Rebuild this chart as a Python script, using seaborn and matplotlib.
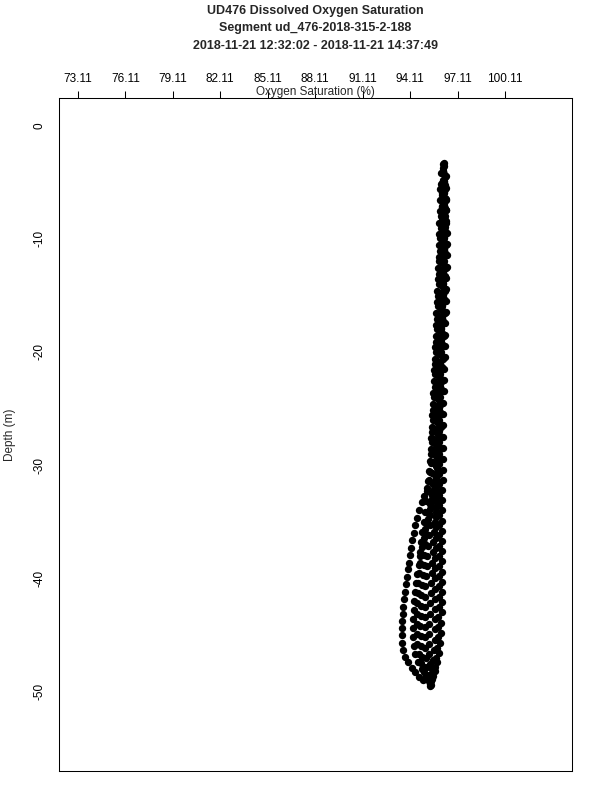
import matplotlib
matplotlib.use("Agg")
import matplotlib.pyplot as plt
import pandas as pd
import seaborn as sns

TITLE_LINES = [
    "UD476 Dissolved Oxygen Saturation",
    "Segment ud_476-2018-315-2-188",
    "2018-11-21 12:32:02 - 2018-11-21 14:37:49",
]
X_LABEL = "Oxygen Saturation (%)"
Y_LABEL = "Depth (m)"
X_TICKS = [73.11, 76.11, 79.11, 82.11, 85.11, 88.11, 91.11, 94.11, 97.11, 100.11]
Y_TICKS = [0, -10, -20, -30, -40, -50]

# one list pair per glider cast
cast_a_depth = [-4.0, -5.1, -6.0, -7.1, -8.0, -9.1, -10.0, -11.1, -12.0, -13.1, -14.0, -15.1, -16.0, -17.1, -18.0,
                -19.1, -20.0, -21.1, -22.0, -23.1, -24.0, -25.1, -26.0, -27.1, -28.0, -29.0, -29.8, -30.6, -31.3,
                -32.0, -32.7, -33.3, -34.0, -34.7, -35.3, -36.0, -36.6, -37.3, -37.9, -38.6, -39.2, -39.9, -40.5,
                -41.2, -41.8, -42.5, -43.1, -43.8, -44.4, -45.0, -45.7, -46.3, -46.9, -47.4, -47.9, -48.3, -48.7, -49.0]
cast_a_oxy = [96.18, 96.16, 96.12, 96.10, 96.08, 96.05, 96.02, 96.00, 95.97, 95.95, 95.92, 95.88, 95.86, 95.83, 95.80,
              95.77, 95.74, 95.71, 95.69, 95.66, 95.62, 95.59, 95.56, 95.52, 95.49, 95.45, 95.41, 95.36, 95.30,
              95.17, 95.00, 94.87, 94.70, 94.55, 94.45, 94.34, 94.26, 94.18, 94.10, 94.02, 93.96, 93.90, 93.85,
              93.79, 93.74, 93.69, 93.65, 93.62, 93.60, 93.59, 93.61, 93.66, 93.80, 93.98, 94.22, 94.45, 94.70, 94.95]

cast_b_depth = [-3.4, -4.3, -5.3, -6.4, -7.3, -8.4, -9.3, -10.4, -11.3, -12.4, -13.3, -14.4, -15.3, -16.4, -17.3,
                -18.4, -19.3, -20.4, -21.3, -22.4, -23.3, -24.4, -25.3, -26.4, -27.3, -28.4, -29.3, -30.3, -31.2,
                -32.1, -33.0, -33.9, -34.8, -35.6, -36.4, -37.2, -38.0, -38.8, -39.6, -40.4, -41.2, -42.0, -42.8,
                -43.6, -44.4, -45.2, -46.0, -46.7, -47.4, -48.0, -48.6]
cast_b_oxy = [96.22, 96.28, 96.30, 96.31, 96.33, 96.33, 96.34, 96.33, 96.32, 96.30, 96.29, 96.27, 96.25, 96.22, 96.20,
              96.18, 96.15, 96.12, 96.10, 96.08, 96.05, 96.03, 96.00, 95.97, 95.95, 95.92, 95.88, 95.82, 95.74,
              95.62, 95.50, 95.36, 95.22, 95.08, 94.96, 94.85, 94.75, 94.66, 94.58, 94.50, 94.44, 94.38, 94.34,
              94.31, 94.30, 94.31, 94.35, 94.45, 94.62, 94.85, 95.10]

cast_c_depth = [-3.8, -4.8, -5.7, -6.8, -7.7, -8.8, -9.7, -10.8, -11.7, -12.8, -13.7, -14.8, -15.7, -16.8, -17.7,
                -18.8, -19.7, -20.8, -21.7, -22.8, -23.7, -24.8, -25.7, -26.8, -27.7, -28.8, -29.7, -30.7, -31.6,
                -32.5, -33.4, -34.3, -35.2, -36.1, -37.0, -37.9, -38.8, -39.7, -40.6, -41.5, -42.4, -43.3, -44.2,
                -45.1, -46.0, -46.9, -47.8, -48.6, -49.3]
cast_c_oxy = [96.22, 96.20, 96.18, 96.17, 96.16, 96.14, 96.12, 96.10, 96.08, 96.06, 96.03, 96.00, 95.98, 95.95, 95.93,
              95.90, 95.87, 95.84, 95.82, 95.79, 95.76, 95.73, 95.70, 95.67, 95.64, 95.60, 95.57, 95.52, 95.47,
              95.41, 95.35, 95.28, 95.21, 95.14, 95.08, 95.02, 94.96, 94.91, 94.87, 94.83, 94.80, 94.78, 94.76,
              94.77, 94.80, 94.86, 94.97, 95.15, 95.37]

cast_d_depth = [-4.5, -5.5, -6.6, -7.5, -8.6, -9.5, -10.6, -11.5, -12.6, -13.5, -14.6, -15.5, -16.6, -17.5, -18.6,
                -19.5, -20.6, -21.5, -22.6, -23.5, -24.6, -25.5, -26.6, -27.5, -28.6, -29.5, -30.5, -31.4, -32.3,
                -33.2, -34.1, -35.0, -35.9, -36.8, -37.7, -38.6, -39.5, -40.4, -41.3, -42.2, -43.1, -44.0, -44.9,
                -45.8, -46.7, -47.6, -48.4, -49.1]
cast_d_oxy = [96.36, 96.38, 96.40, 96.40, 96.41, 96.40, 96.39, 96.38, 96.37, 96.35, 96.33, 96.31, 96.29, 96.26, 96.24,
              96.21, 96.19, 96.16, 96.14, 96.11, 96.09, 96.06, 96.04, 96.01, 95.98, 95.95, 95.91, 95.87, 95.82,
              95.77, 95.72, 95.67, 95.62, 95.58, 95.54, 95.50, 95.47, 95.44, 95.41, 95.38, 95.35, 95.33, 95.31,
              95.31, 95.33, 95.37, 95.42, 95.45]

cast_e_depth = [-3.6, -4.6, -5.6, -6.5, -7.5, -8.5, -9.5, -10.5, -11.5, -12.5, -13.5, -14.5, -15.5, -16.5, -17.5,
                -18.5, -19.5, -20.5, -21.5, -22.5, -23.5, -24.5, -25.5, -26.5, -27.5, -28.5, -29.5, -30.4, -31.3,
                -32.2, -33.1, -34.0, -34.9, -35.8, -36.7, -37.6, -38.5, -39.4, -40.3, -41.2, -42.1, -43.0, -43.9,
                -44.8, -45.7, -46.6, -47.4, -48.2, -48.9, -49.5]
cast_e_oxy = [96.26, 96.30, 96.33, 96.36, 96.38, 96.40, 96.42, 96.43, 96.43, 96.42, 96.41, 96.40, 96.38, 96.36, 96.35,
              96.33, 96.31, 96.29, 96.27, 96.25, 96.24, 96.22, 96.21, 96.20, 96.19, 96.18, 96.18, 96.17, 96.17,
              96.16, 96.16, 96.15, 96.15, 96.15, 96.14, 96.14, 96.14, 96.13, 96.13, 96.12, 96.11, 96.10, 96.08,
              96.05, 96.01, 95.94, 95.82, 95.68, 95.52, 95.40]

cast_f_depth = [-4.2, -5.2, -6.2, -7.2, -8.2, -9.2, -10.2, -11.2, -12.2, -13.2, -14.2, -15.2, -16.2, -17.2, -18.2,
                -19.2, -20.2, -21.2, -22.2, -23.2, -24.2, -25.2, -26.2, -27.2, -28.2, -29.2, -30.1, -31.0, -31.9,
                -32.8, -33.7, -34.6, -35.5, -36.4, -37.3, -38.2, -39.1, -40.0, -40.9, -41.8, -42.7, -43.6, -44.5,
                -45.4, -46.3, -47.2, -48.0, -48.8]
cast_f_oxy = [96.05, 96.08, 96.10, 96.12, 96.14, 96.15, 96.15, 96.14, 96.13, 96.12, 96.10, 96.08, 96.06, 96.04, 96.01,
              95.99, 95.96, 95.94, 95.91, 95.89, 95.86, 95.84, 95.82, 95.80, 95.78, 95.77, 95.76, 95.75, 95.75,
              95.74, 95.74, 95.73, 95.73, 95.72, 95.72, 95.71, 95.71, 95.70, 95.70, 95.69, 95.69, 95.68, 95.68,
              95.66, 95.63, 95.58, 95.52, 95.45]

cast_g_depth = [-5.6, -6.6, -7.6, -8.6, -9.6, -10.6, -11.6, -12.6, -13.6, -14.6, -15.6, -16.6, -17.6, -18.6, -19.6,
                -20.6, -21.6, -22.6, -23.6, -24.6, -25.6, -26.6, -27.6, -28.6, -29.6, -30.5, -31.4, -32.3, -33.2,
                -34.1, -35.0, -35.9, -36.8, -37.7, -38.6, -39.5, -40.4, -41.3, -42.2, -43.1, -44.0, -44.9, -45.8,
                -46.7, -47.5, -48.3, -49.0]
cast_g_oxy = [96.02, 96.00, 95.98, 95.97, 95.95, 95.93, 95.91, 95.89, 95.86, 95.83, 95.81, 95.78, 95.75, 95.72, 95.69,
              95.66, 95.63, 95.60, 95.57, 95.54, 95.51, 95.48, 95.45, 95.41, 95.38, 95.33, 95.27, 95.20, 95.12,
              95.04, 94.96, 94.89, 94.82, 94.76, 94.71, 94.66, 94.62, 94.59, 94.57, 94.55, 94.54, 94.55, 94.58,
              94.65, 94.78, 94.98, 95.22]

cast_h_depth = [-4.9, -5.9, -6.9, -7.9, -8.9, -9.9, -10.9, -11.9, -12.9, -13.9, -14.9, -15.9, -16.9, -17.9, -18.9,
                -19.9, -20.9, -21.9, -22.9, -23.9, -24.9, -25.9, -26.9, -27.9, -28.9, -29.9, -30.8, -31.7, -32.6,
                -33.5, -34.4, -35.3, -36.2, -37.1, -38.0, -38.9, -39.8, -40.7, -41.6, -42.5, -43.4, -44.3, -45.2,
                -46.1, -47.0, -47.8, -48.5, -49.2]
cast_h_oxy = [96.28, 96.27, 96.27, 96.26, 96.25, 96.25, 96.24, 96.22, 96.20, 96.18, 96.16, 96.13, 96.10, 96.07, 96.04,
              96.01, 95.98, 95.95, 95.92, 95.89, 95.86, 95.82, 95.79, 95.75, 95.71, 95.67, 95.62, 95.57, 95.52,
              95.46, 95.40, 95.34, 95.29, 95.24, 95.19, 95.15, 95.11, 95.08, 95.06, 95.04, 95.03, 95.03, 95.04,
              95.07, 95.12, 95.20, 95.28, 95.35]

cast_i_depth = [-3.3, -4.0, -5.0, -6.0, -7.0, -8.0, -9.0, -10.0, -11.0, -12.0, -13.0, -14.0, -15.0, -16.0, -17.0,
                -18.0, -19.0, -20.0, -21.0, -22.0, -23.0, -24.0, -25.0, -26.0, -27.0, -28.0, -29.0, -29.9, -30.8,
                -31.7, -32.6, -33.5, -34.4, -35.3, -36.2, -37.1, -38.0, -38.9, -39.8, -40.7, -41.6, -42.5, -43.4,
                -44.3, -45.2, -46.1, -47.0, -47.8, -48.6, -49.4]
cast_i_oxy = [96.24, 96.22, 96.24, 96.26, 96.28, 96.29, 96.29, 96.28, 96.26, 96.24, 96.22, 96.19, 96.17, 96.14, 96.12,
              96.09, 96.07, 96.05, 96.03, 96.01, 95.99, 95.98, 95.97, 95.96, 95.96, 95.95, 95.95, 95.95, 95.95,
              95.94, 95.94, 95.94, 95.94, 95.94, 95.93, 95.93, 95.93, 95.92, 95.92, 95.92, 95.91, 95.91, 95.90,
              95.89, 95.87, 95.83, 95.76, 95.66, 95.55, 95.42]

casts = {
    "a": (cast_a_depth, cast_a_oxy),
    "b": (cast_b_depth, cast_b_oxy),
    "c": (cast_c_depth, cast_c_oxy),
    "d": (cast_d_depth, cast_d_oxy),
    "e": (cast_e_depth, cast_e_oxy),
    "f": (cast_f_depth, cast_f_oxy),
    "g": (cast_g_depth, cast_g_oxy),
    "h": (cast_h_depth, cast_h_oxy),
    "i": (cast_i_depth, cast_i_oxy),
}
df = pd.concat(
    [pd.DataFrame({"cast": name, "depth": d, "oxygen": o}) for name, (d, o) in casts.items()],
    ignore_index=True,
)

sns.set_style("white")
plt.rcParams["font.family"] = ["Liberation Sans", "DejaVu Sans"]
plt.rcParams["axes.unicode_minus"] = False

fig = plt.figure(figsize=(6, 8), dpi=100)
ax = fig.add_axes([59 / 600, 1 - 771 / 800, 513 / 600, 673 / 800])

sns.scatterplot(data=df, x="oxygen", y="depth", color="black", s=28, linewidth=0, legend=False, ax=ax)

ax.set_xlim(71.91, 104.35)
ax.set_ylim(-57.0, 2.4)

ax.xaxis.tick_top()
ax.set_xticks(X_TICKS)
ax.set_xticklabels([f"{v:.2f}" for v in X_TICKS], fontsize=8.5)
ax.set_yticks(Y_TICKS)
ax.set_yticklabels([str(v) for v in Y_TICKS], fontsize=8.5, rotation=90, va="center")
ax.tick_params(axis="both", direction="out", length=5, width=0.75, color="black", labelcolor="black")
ax.tick_params(axis="x", pad=4.5)
ax.tick_params(axis="y", pad=5)

ax.set_xlabel(X_LABEL, fontsize=8.5)
ax.xaxis.set_label_position("top")
ax.xaxis.set_label_coords(0.5, 1.0085)
ax.xaxis.label.set_va("center")
ax.set_ylabel(Y_LABEL, fontsize=8.5)
ax.yaxis.set_label_coords(-0.0955, 0.5)
ax.yaxis.label.set_va("center")

for spine in ax.spines.values():
    spine.set_visible(True)
    spine.set_color("black")
    spine.set_linewidth(0.75)

fig.text(0.526, 1 - 28.5 / 800, "\n".join(TITLE_LINES), ha="center", va="center",
         fontsize=9, fontweight="bold", linespacing=1.65)

fig.savefig("out.png", dpi=100)
plt.close(fig)
